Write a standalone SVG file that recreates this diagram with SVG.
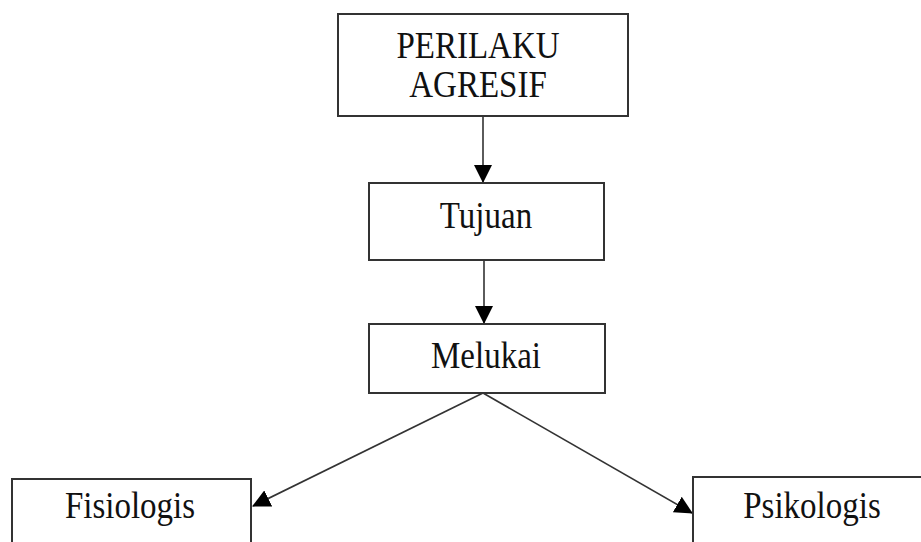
<svg xmlns="http://www.w3.org/2000/svg" width="921" height="542" viewBox="0 0 921 542">
<style>
.box{fill:#fff;stroke:#333;stroke-width:2}
.lbl{font-family:"Liberation Serif","Times New Roman",serif;font-size:33px;fill:#111;text-anchor:middle}
.edge{stroke:#333;stroke-width:1.6;fill:none}
</style>
<defs>
<marker id="ah" markerUnits="userSpaceOnUse" markerWidth="18" markerHeight="18" viewBox="0 0 18 18" refX="17" refY="9" orient="auto">
<path d="M0,0 L18,9 L0,18 Z" fill="#000"/>
</marker>
</defs>
<rect width="921" height="542" fill="#fff"/>
<g id="edges">
<line class="edge" x1="483" y1="116" x2="483" y2="182" marker-end="url(#ah)"/>
<line class="edge" x1="484" y1="260" x2="484" y2="323" marker-end="url(#ah)"/>
<line class="edge" x1="483" y1="393" x2="253" y2="506" marker-end="url(#ah)"/>
<line class="edge" x1="483" y1="393" x2="692" y2="513" marker-end="url(#ah)"/>
</g>
<g id="n-perilaku">
<rect class="box" x="338" y="14" width="290" height="102"/>
<text class="lbl" transform="translate(478,58) scale(1,1.14)">PERILAKU</text>
<text class="lbl" transform="translate(478,97) scale(1,1.14)">AGRESIF</text>
</g>
<g id="n-tujuan">
<rect class="box" x="369" y="183" width="235" height="77"/>
<text class="lbl" transform="translate(486,228) scale(1,1.14)">Tujuan</text>
</g>
<g id="n-melukai">
<rect class="box" x="369" y="324" width="236" height="69"/>
<text class="lbl" transform="translate(486,368) scale(1,1.14)">Melukai</text>
</g>
<g id="n-fisiologis">
<rect class="box" x="12" y="479" width="239" height="80"/>
<text class="lbl" transform="translate(130,518) scale(1,1.14)">Fisiologis</text>
</g>
<g id="n-psikologis">
<rect class="box" x="693" y="477" width="240" height="80"/>
<text class="lbl" transform="translate(812,518) scale(1,1.14)">Psikologis</text>
</g>
</svg>
